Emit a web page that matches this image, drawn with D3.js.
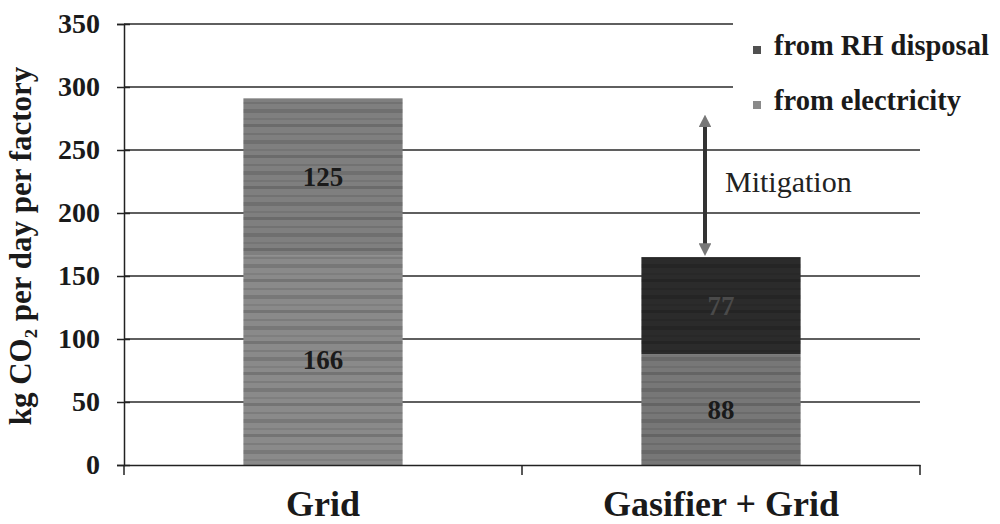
<!DOCTYPE html>
<html>
<head>
<meta charset="utf-8">
<script src="https://cdn.jsdelivr.net/npm/d3@7"></script>
<style>
  body { margin: 0; background: #fff; }
  svg text { font-family: "Liberation Serif", "Times New Roman", serif; }
</style>
</head>
<body>
<div id="chart"></div>
<script>
var categories = ["Grid", "Gasifier + Grid"];
var seriesNames = ["from electricity", "from RH disposal"];
var electricity = [166, 88];
var rhDisposal = [125, 77];
var yTicks = [0, 50, 100, 150, 200, 250, 300, 350];
var legendOrder = ["from RH disposal", "from electricity"];

function init(){
	var w = 1000;
	var h = 524;
	var left = 124, right = 920, top = 24, bottom = 465;

	var svg = d3.select("#chart")
				.append("svg")
				.attr("width", w)
				.attr("height", h);

	var xScale = d3.scaleBand()
					.domain(categories)
					.range([left, right])
					.paddingInner(0.6)
					.paddingOuter(0.3);

	var yScale = d3.scaleLinear()
					.domain([0, 350])
					.range([bottom, top]);

	// gridlines
	svg.append("g")
		.selectAll("line")
		.data(yTicks.slice(1))
		.enter()
		.append("line")
		.attr("x1", left)
		.attr("x2", right)
		.attr("y1", function(d){ return yScale(d); })
		.attr("y2", function(d){ return yScale(d); })
		.attr("stroke", "#2a2a2a")
		.attr("stroke-width", 1.6);

	// stacked data
	var rows = categories.map(function(c, i){
		return { cat: c, "from electricity": electricity[i], "from RH disposal": rhDisposal[i] };
	});
	var stack = d3.stack().keys(seriesNames)(rows);

	// fills per bar / series (the grid bar is printed in one tone)
	var fills = {
		"Grid": { "from electricity": "#8a8a8a", "from RH disposal": "#7f7f7f" },
		"Gasifier + Grid": { "from electricity": "#777777", "from RH disposal": "#2b2b2b" }
	};

	// rough horizontal banding like the scanned print
	var defs = svg.append("defs");
	var pat = defs.append("pattern")
		.attr("id", "bands")
		.attr("width", 10).attr("height", 31)
		.attr("patternUnits", "userSpaceOnUse");
	[[0, 3, 0.16], [9, 2, 0.1], [16, 4, 0.13], [25, 2, 0.08]].forEach(function(b){
		pat.append("rect").attr("width", 10).attr("y", b[0]).attr("height", b[1])
			.attr("fill", "#000").attr("opacity", b[2]);
	});

	stack.forEach(function(layer){
		var g = svg.append("g");
		g.selectAll("rect.bar")
			.data(layer)
			.enter()
			.append("rect")
			.attr("class", "bar")
			.attr("x", function(d){ return xScale(d.data.cat); })
			.attr("width", xScale.bandwidth())
			.attr("y", function(d){ return yScale(d[1]); })
			.attr("height", function(d){ return yScale(d[0]) - yScale(d[1]); })
			.attr("fill", function(d){ return fills[d.data.cat][layer.key]; });
		g.selectAll("rect.tex")
			.data(layer)
			.enter()
			.append("rect")
			.attr("class", "tex")
			.attr("x", function(d){ return xScale(d.data.cat); })
			.attr("width", xScale.bandwidth())
			.attr("y", function(d){ return yScale(d[1]); })
			.attr("height", function(d){ return yScale(d[0]) - yScale(d[1]); })
			.attr("fill", "url(#bands)");
		g.selectAll("text")
			.data(layer)
			.enter()
			.append("text")
			.text(function(d){ return d[1] - d[0]; })
			.attr("x", function(d){ return xScale(d.data.cat) + xScale.bandwidth() / 2; })
			.attr("y", function(d){ return (yScale(d[0]) + yScale(d[1])) / 2 + 9; })
			.attr("text-anchor", "middle")
			.attr("font-size", 27)
			.attr("font-weight", "bold")
			.attr("fill", function(d){
				return fills[d.data.cat][layer.key] == "#2b2b2b" ? "#4a4a4a" : "#1a1a1a";
			});
	});

	// y axis
	var yAxis = d3.axisLeft(yScale).tickValues(yTicks).tickSize(7).tickPadding(17);
	var ya = svg.append("g")
		.attr("transform", "translate(" + left + ",0)")
		.call(yAxis);
	ya.select(".domain").attr("stroke", "#222").attr("stroke-width", 1.5);
	ya.selectAll(".tick line").attr("stroke", "#222").attr("stroke-width", 1.5).attr("x2", 6).attr("x1", -7);
	ya.selectAll("text")
		.attr("font-size", 28)
		.attr("font-weight", "bold")
		.attr("font-family", "Liberation Serif")
		.attr("fill", "#1a1a1a");

	// x axis
	var xa = svg.append("g")
		.attr("transform", "translate(0," + bottom + ")")
		.call(d3.axisBottom(xScale).tickSize(0).tickPadding(25));
	xa.select(".domain").attr("stroke", "#222").attr("stroke-width", 1.5);
	xa.selectAll("text")
		.attr("font-size", 36)
		.attr("font-weight", "bold")
		.attr("font-family", "Liberation Serif")
		.attr("fill", "#1a1a1a");
	// category separators
	svg.append("g")
		.selectAll("line")
		.data([left, (left + right) / 2, right])
		.enter()
		.append("line")
		.attr("x1", function(d){ return d; })
		.attr("x2", function(d){ return d; })
		.attr("y1", bottom)
		.attr("y2", bottom + 10)
		.attr("stroke", "#222")
		.attr("stroke-width", 1.5);

	// y title
	svg.append("text")
		.attr("transform", "translate(31,246) rotate(-90)")
		.attr("text-anchor", "middle")
		.attr("font-size", 31)
		.attr("font-weight", "bold")
		.attr("fill", "#1a1a1a")
		.text("kg CO\u2082 per day per factory");

	// legend (white box hides the gridlines behind it)
	var lg = svg.append("g");
	lg.append("rect")
		.attr("x", 733).attr("y", 14)
		.attr("width", 267).attr("height", 108)
		.attr("fill", "#fff");
	var legFill = { "from RH disposal": "#505050", "from electricity": "#8a8a8a" };
	legendOrder.forEach(function(name, i){
		var y = 55 + i * 55;
		lg.append("rect")
			.attr("x", 753).attr("y", y - 9)
			.attr("width", 8).attr("height", 8)
			.attr("fill", legFill[name]);
		lg.append("text")
			.text(name)
			.attr("x", 774).attr("y", y)
			.attr("font-size", 28.5)
			.attr("font-weight", "bold")
			.attr("fill", "#1a1a1a");
	});

	// mitigation arrow between the two bar tops
	var ax = 705;
	defs.append("marker")
		.attr("id", "head")
		.attr("viewBox", "0 0 10 10")
		.attr("refX", 5).attr("refY", 5)
		.attr("markerWidth", 3.2).attr("markerHeight", 3.2)
		.attr("orient", "auto-start-reverse")
		.append("path")
		.attr("d", "M0,0 L10,5 L0,10 z")
		.attr("fill", "#777");
	svg.append("line")
		.attr("x1", ax).attr("x2", ax)
		.attr("y1", yScale(electricity[0] + rhDisposal[0] - 18))
		.attr("y2", yScale(electricity[1] + rhDisposal[1] + 6))
		.attr("stroke", "#333")
		.attr("stroke-width", 4)
		.attr("marker-start", "url(#head)")
		.attr("marker-end", "url(#head)");
	svg.append("text")
		.text("Mitigation")
		.attr("x", 725).attr("y", 192)
		.attr("font-size", 30)
		.attr("fill", "#222");
}

window.onload = init;
</script>
</body>
</html>
